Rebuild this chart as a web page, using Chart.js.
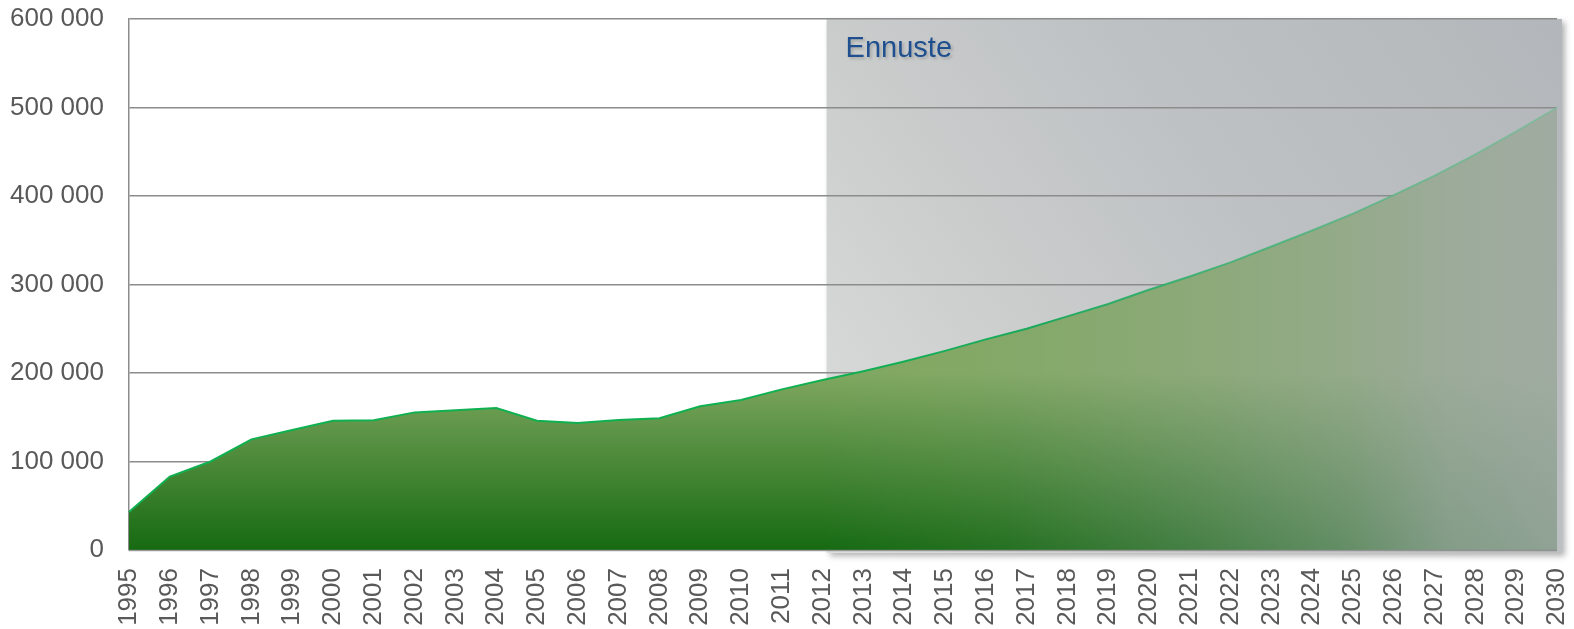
<!DOCTYPE html>
<html>
<head>
<meta charset="utf-8">
<script src="https://cdn.jsdelivr.net/npm/chart.js@4/dist/chart.umd.min.js"></script>
<style>
  html, body { margin: 0; padding: 0; background: #fff; }
  #wrap { width: 1574px; height: 629px; position: relative; }
</style>
</head>
<body>
<div id="wrap"><canvas id="chart"></canvas></div>
<script>
// ---------- DATA ----------
const years = ['1995', '1996', '1997', '1998', '1999', '2000', '2001', '2002', '2003',
  '2004', '2005', '2006', '2007', '2008', '2009', '2010', '2011', '2012', '2013', '2014',
  '2015', '2016', '2017', '2018', '2019', '2020', '2021', '2022', '2023', '2024', '2025',
  '2026', '2027', '2028', '2029', '2030'];

// actual values 1995..2012
const history = [43000, 83000, 100000, 125000, 135500, 146000, 146500, 155500, 158000,
  160500, 146000, 143500, 147000, 149000, 162500, 169500, 181500, 192000];

// forecast 2012..2030
const forecast = [192000, 202000, 213000, 225000, 238000, 250000, 264000, 278000, 294000,
  309000, 325000, 343000, 361000, 380000, 401000, 423000, 447000, 473000, 500000];

const forecastStart = '2012';
const forecastLabel = 'Ennuste';
const yTicks = [0, 100000, 200000, 300000, 400000, 500000, 600000];

// ---------- HELPERS ----------
const startIdx = years.indexOf(forecastStart);
const series = years.map((y, i) => i < startIdx ? history[i] : forecast[i - startIdx]);

function fmt(v) {
  return String(v).replace(/\B(?=(\d{3})+(?!\d))/g, ' ');
}

function greenFill(context) {
  const chart = context.chart;
  if (!chart.chartArea) return null;
  const ys = chart.scales.y;
  const g = chart.ctx.createLinearGradient(0, ys.getPixelForValue(200000), 0, ys.getPixelForValue(0));
  g.addColorStop(0, '#80a860');
  g.addColorStop(1, '#166a12');
  return g;
}

// solid green over the history, fading over the forecast
function lineColor(context) {
  const chart = context.chart;
  const area = chart.chartArea;
  if (!area) return '#0fb050';
  const xs = chart.scales.x;
  const t = (xs.getPixelForValue(startIdx) - area.left) / (area.right - area.left);
  const g = chart.ctx.createLinearGradient(area.left, 0, area.right, 0);
  g.addColorStop(0, '#0fb050');
  g.addColorStop(t, '#0fb050');
  g.addColorStop(t + 0.3 * (1 - t), 'rgba(20,168,90,0.95)');
  g.addColorStop(1, 'rgba(110,190,150,0.55)');
  return g;
}

function noPadding(scale) {
  scale.paddingTop = 0;
  scale.paddingBottom = 0;
  scale.paddingLeft = 0;
  scale.paddingRight = 0;
}

// ---------- FORECAST BOX PLUGIN ----------
const forecastBox = {
  id: 'forecastBox',
  beforeDraw(chart) {
    const { ctx, chartArea } = chart;
    const x0 = chart.scales.x.getPixelForValue(startIdx) + 4;
    const x1 = chartArea.right + 5;
    const y0 = chartArea.top;
    const y1 = chartArea.bottom + 3;
    const g = ctx.createLinearGradient(x0, y1, x1, y0);
    g.addColorStop(0, '#dddede');
    g.addColorStop(0.35, '#cacccc');
    g.addColorStop(0.6, '#bdc1c3');
    g.addColorStop(1, '#b3b7bb');
    ctx.save();
    ctx.shadowColor = 'rgba(0,0,0,0.3)';
    ctx.shadowBlur = 6;
    ctx.shadowOffsetX = 3;
    ctx.shadowOffsetY = 3;
    ctx.fillStyle = g;
    ctx.fillRect(x0, y0, x1 - x0, y1 - y0);
    ctx.restore();
  },
  beforeDatasetDraw(chart, args) {
    // fade the forecast part of the fill towards grey on the right
    const { ctx, chartArea } = chart;
    const pts = args.meta.data.slice(startIdx);
    const bottom = chart.scales.y.getPixelForValue(0);
    ctx.save();
    ctx.beginPath();
    ctx.moveTo(pts[0].x, bottom);
    pts.forEach(p => ctx.lineTo(p.x, p.y));
    ctx.lineTo(pts[pts.length - 1].x, bottom);
    ctx.closePath();
    ctx.clip();
    const x0 = pts[0].x, x1 = pts[pts.length - 1].x;
    const g = ctx.createLinearGradient(x0, 0, x1, 0);
    g.addColorStop(0, 'rgba(165,172,172,0)');
    g.addColorStop(0.25, 'rgba(165,172,172,0.1)');
    g.addColorStop(0.5, 'rgba(165,172,172,0.32)');
    g.addColorStop(0.72, 'rgba(165,172,172,0.55)');
    g.addColorStop(0.85, 'rgba(165,172,172,0.76)');
    g.addColorStop(1, 'rgba(165,172,172,0.85)');
    ctx.fillStyle = g;
    ctx.fillRect(x0, chartArea.top, x1 - x0, bottom - chartArea.top);
    ctx.restore();
  },
  afterDatasetsDraw(chart) {
    const { ctx, chartArea } = chart;
    // bottom axis line on top of the fill
    ctx.save();
    ctx.strokeStyle = 'rgba(140,140,140,0.8)';
    ctx.lineWidth = 1.5;
    ctx.beginPath();
    ctx.moveTo(chartArea.left, chartArea.bottom + 0.5);
    ctx.lineTo(chartArea.right, chartArea.bottom + 0.5);
    ctx.stroke();
    // label
    const x0 = chart.scales.x.getPixelForValue(startIdx) + 4;
    ctx.font = '29px "Liberation Sans", Arial, sans-serif';
    ctx.textBaseline = 'alphabetic';
    ctx.textAlign = 'left';
    ctx.shadowColor = 'rgba(0,0,0,0.18)';
    ctx.shadowBlur = 3;
    ctx.shadowOffsetX = 2;
    ctx.shadowOffsetY = 2;
    ctx.fillStyle = '#1f4f8f';
    ctx.fillText(forecastLabel, x0 + 19, chartArea.top + 38);
    ctx.restore();
  }
};

// ---------- CHART ----------
const tickFont = { family: '"Liberation Sans", Arial, sans-serif', size: 26 };

new Chart(document.getElementById('chart'), {
  type: 'line',
  data: {
    labels: years,
    datasets: [{
      data: series,
      borderColor: lineColor,
      borderWidth: 2,
      backgroundColor: greenFill,
      fill: 'origin',
      pointRadius: 0,
      tension: 0
    }]
  },
  options: {
    responsive: true,
    maintainAspectRatio: false,
    animation: false,
    layout: { padding: { left: 0, right: 17, top: 19, bottom: 0 } },
    plugins: {
      legend: { display: false },
      tooltip: { enabled: false }
    },
    scales: {
      x: {
        offset: false,
        grid: { display: false, drawTicks: false },
        border: { display: false },
        ticks: {
          autoSkip: false,
          maxRotation: 90,
          minRotation: 90,
          padding: 18,
          color: '#595959',
          font: tickFont
        },
        afterFit(scale) { scale.height = 79; noPadding(scale); }
      },
      y: {
        min: 0,
        max: 600000,
        afterBuildTicks(scale) { scale.ticks = yTicks.map(v => ({ value: v })); },
        grid: { color: '#8c8c8c', lineWidth: 1.5, drawTicks: false },
        border: { display: true, color: '#8c8c8c', width: 1.5 },
        ticks: {
          padding: 25,
          color: '#595959',
          font: tickFont,
          callback: v => fmt(v)
        },
        afterFit(scale) { scale.width = 129; noPadding(scale); }
      }
    }
  },
  plugins: [forecastBox]
});
</script>
</body>
</html>
